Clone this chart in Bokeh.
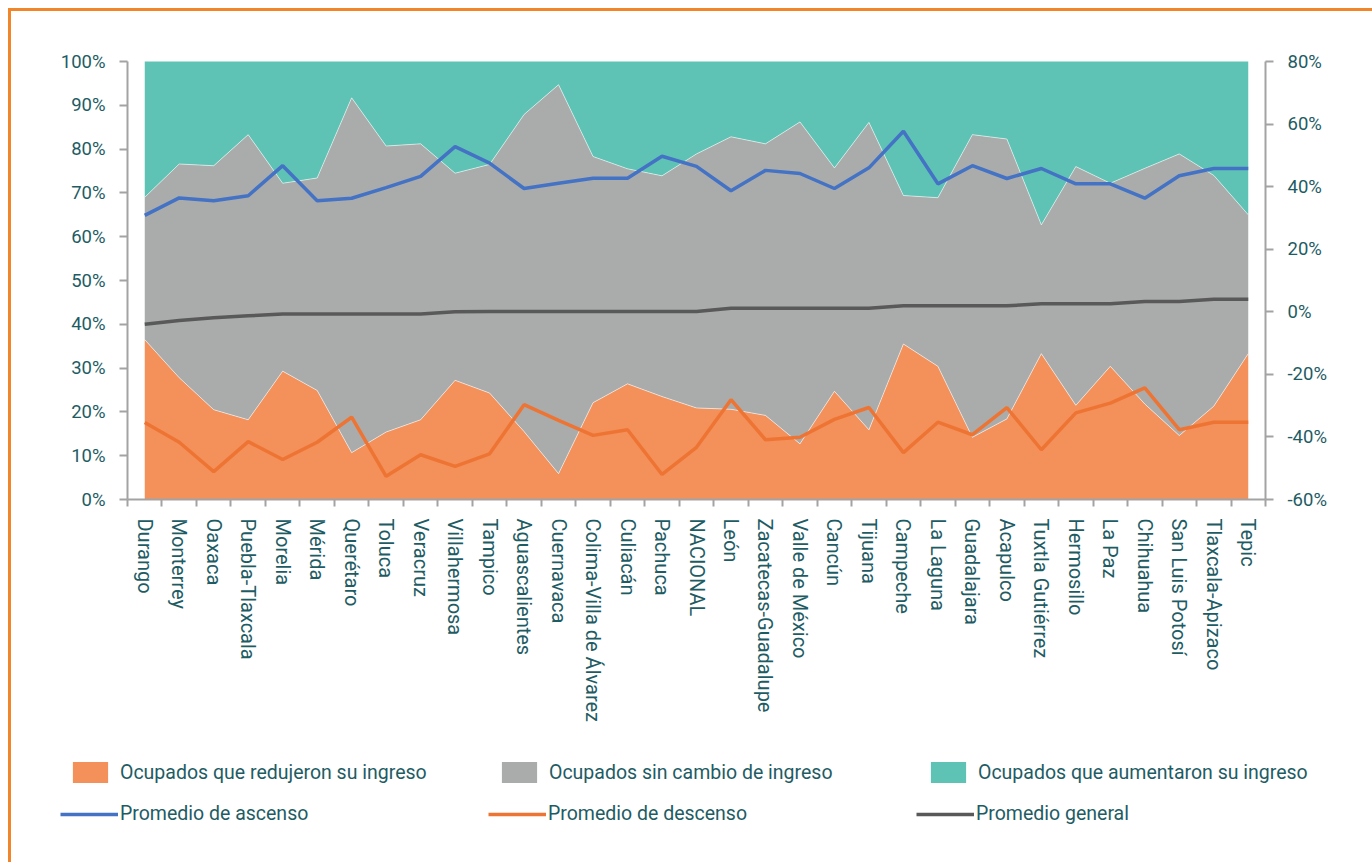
from bokeh.plotting import figure
from bokeh.models import (ColumnDataSource, Range1d, LinearAxis, FixedTicker,
                          PrintfTickFormatter, Legend, LegendItem)
from bokeh.embed import file_html
from bokeh.resources import INLINE

# ---------------- data ----------------
ciudades = ["Durango", "Monterrey", "Oaxaca", "Puebla-Tlaxcala", "Morelia", "Mérida",
            "Querétaro", "Toluca", "Veracruz", "Villahermosa", "Tampico", "Aguascalientes",
            "Cuernavaca", "Colima-Villa de Álvarez", "Culiacán", "Pachuca", "NACIONAL",
            "León", "Zacatecas-Guadalupe", "Valle de México", "Cancún", "Tijuana",
            "Campeche", "La Laguna", "Guadalajara", "Acapulco", "Tuxtla Gutiérrez",
            "Hermosillo", "La Paz", "Chihuahua", "San Luis Potosí", "Tlaxcala-Apizaco", "Tepic"]

# % ocupados que redujeron su ingreso
redujeron = [36.5, 27.8, 20.5, 18.2, 29.3, 24.9, 10.7, 15.4, 18.2, 27.2, 24.3, 15.5,
             5.9, 22.1, 26.4, 23.5, 20.9, 20.6, 19.2, 12.7, 24.7, 15.9, 35.5, 30.4,
             14.2, 18.4, 33.3, 21.5, 30.4, 21.8, 14.6, 21.3, 33.3]
# % ocupados sin cambio de ingreso
sin_cambio = [32.5, 48.8, 55.7, 65.1, 42.9, 48.5, 81.0, 65.3, 63.0, 47.3, 52.2, 72.4,
              88.8, 56.2, 49.1, 50.4, 58.0, 62.2, 62.0, 73.5, 51.0, 70.2, 33.9, 38.5,
              69.1, 63.9, 29.4, 54.5, 41.8, 53.8, 64.3, 52.7, 31.7]
# % ocupados que aumentaron su ingreso
aumentaron = [31.0, 23.4, 23.8, 16.7, 27.8, 26.6, 8.3, 19.3, 18.8, 25.5, 23.5, 12.1,
              5.3, 21.7, 24.5, 26.1, 21.1, 17.2, 18.8, 13.8, 24.3, 13.9, 30.6, 31.1,
              16.7, 17.7, 37.3, 24.0, 27.8, 24.4, 21.1, 26.0, 35.0]

prom_ascenso = [30.8, 36.4, 35.5, 37.1, 46.7, 35.5, 36.3, 39.7, 43.3, 52.8, 47.5, 39.4,
                41.1, 42.7, 42.7, 49.7, 46.5, 38.7, 45.2, 44.2, 39.4, 46.0, 57.7, 40.9,
                46.7, 42.6, 45.8, 40.9, 40.9, 36.3, 43.5, 45.8, 45.8]
prom_descenso = [-35.4, -41.7, -51.1, -41.5, -47.2, -41.7, -33.7, -52.6, -45.7, -49.4,
                 -45.4, -29.7, -34.7, -39.5, -37.7, -52.0, -43.3, -28.1, -40.9, -40.1,
                 -34.4, -30.6, -45.0, -35.3, -39.3, -30.6, -44.1, -32.3, -29.2, -24.3,
                 -37.7, -35.3, -35.3]
prom_general = [-4.0, -2.8, -1.9, -1.3, -0.7, -0.7, -0.7, -0.7, -0.7, 0.0, 0.1, 0.1,
                0.1, 0.1, 0.1, 0.1, 0.1, 1.1, 1.1, 1.1, 1.1, 1.1, 1.9, 1.9, 1.9, 1.9,
                2.6, 2.6, 2.6, 3.3, 3.3, 4.0, 4.0]

left_ticks = [0, 10, 20, 30, 40, 50, 60, 70, 80, 90, 100]
right_ticks = [-60, -40, -20, 0, 20, 40, 60, 80]

# ---------------- styles ----------------
C_RED = "#F4905A"
C_SIN = "#A9ACAB"
C_AUM = "#5EC3B5"
C_ASC = "#4472C4"
C_DES = "#EE7434"
C_GEN = "#595959"
TXT = "#1E5C64"
AX = "#A3A3A3"
FONT = "Roboto"
BORDER = "#F0852A"

n = len(ciudades)
x = list(range(n))
tope_red = redujeron
tope_sin = [a + b for a, b in zip(redujeron, sin_cambio)]
src = ColumnDataSource(dict(x=x, red=redujeron, sin=sin_cambio, aum=aumentaron,
                            asc=prom_ascenso, des=prom_descenso, gen=prom_general,
                            t1=tope_red, t2=tope_sin))

# The frame covers the whole canvas (1361 x 851 px); axes sit inside it at fixed
# locations, so that the legend rows below the chart stay inside the frame.
W, H = 1361, 851
PX_X = 1138 / n          # px per category
PX_L = 438 / 100         # px per % (left axis)
PX_R = 438 / 140         # px per % (right axis)
FL, FT, FB = 116, 50, 363  # chart area offsets inside the canvas
x_range = Range1d(-0.5 - FL / PX_X, -0.5 + (W - FL) / PX_X)
y_range = Range1d(-FB / PX_L, 100 + FT / PX_L)
r_range = Range1d(-60 - FB / PX_R, 80 + FT / PX_R)

p = figure(frame_width=W, frame_height=H, min_border=0,
           x_range=x_range, y_range=y_range,
           output_backend="svg", toolbar_location=None, tools="")
p.styles = {"margin-left": "8px", "margin-top": "8px",
            "border-left": "3px solid " + BORDER, "border-top": "3px solid " + BORDER}
p.extra_y_ranges = {"right": r_range}
p.outline_line_color = None
p.xgrid.visible = False
p.ygrid.visible = False
p.background_fill_color = "white"
p.border_fill_color = "white"

areas = p.varea_stack(stackers=["red", "sin", "aum"], x="x", source=src,
                      color=[C_RED, C_SIN, C_AUM])
p.line("x", "t1", source=src, line_color="white", line_width=0.8, line_alpha=0.7)
p.line("x", "t2", source=src, line_color="white", line_width=0.8, line_alpha=0.7)

r_gen = p.line("x", "gen", source=src, y_range_name="right", line_color=C_GEN, line_width=3.5)
r_asc = p.line("x", "asc", source=src, y_range_name="right", line_color=C_ASC, line_width=3.5)
r_des = p.line("x", "des", source=src, y_range_name="right", line_color=C_DES, line_width=3.5)

# x axis
xa = p.xaxis[0]
xa.fixed_location = 0
xa.bounds = (-0.5, n - 0.5)
xa.ticker = FixedTicker(ticks=x, minor_ticks=[i - 0.5 for i in range(n + 1)])
xa.major_label_overrides = {i: c for i, c in enumerate(ciudades)}
xa.major_label_orientation = "vertical"
xa.major_tick_line_color = None
xa.major_tick_out = 0
xa.major_tick_in = 0
xa.minor_tick_line_color = AX
xa.minor_tick_line_width = 2
xa.minor_tick_out = 7
xa.minor_tick_in = 0
xa.axis_line_color = AX
xa.axis_line_width = 2
xa.major_label_standoff = 12
xa.major_label_text_font = FONT
xa.major_label_text_font_size = "20px"
xa.major_label_text_color = TXT

ya = p.yaxis[0]
ya.fixed_location = -0.5
ya.bounds = (0, 100)
ya.ticker = FixedTicker(ticks=left_ticks)
ya.formatter = PrintfTickFormatter(format="%d%%")
ra = LinearAxis(y_range_name="right", ticker=FixedTicker(ticks=right_ticks),
                formatter=PrintfTickFormatter(format="%d%%"),
                fixed_location=n - 0.5, bounds=(-60, 80))
p.add_layout(ra, "right")
for a in (ya, ra):
    a.axis_line_color = AX
    a.axis_line_width = 2
    a.major_tick_line_color = AX
    a.major_tick_line_width = 2
    a.major_tick_out = 8
    a.major_tick_in = 0
    a.minor_tick_line_color = None
    a.major_label_standoff = 14
    a.major_label_text_font = FONT
    a.major_label_text_font_size = "18.5px"
    a.major_label_text_color = TXT

# ---------------- legends ----------------
common = dict(orientation="horizontal", padding=0, margin=0, border_line_color=None,
              background_fill_alpha=0, label_text_font=FONT, label_text_font_size="19.5px",
              label_text_color=TXT, label_width=350, label_height=20)
leg1 = Legend(items=[LegendItem(label="Ocupados que redujeron su ingreso", renderers=[areas[0]]),
                     LegendItem(label="Ocupados sin cambio de ingreso", renderers=[areas[1]]),
                     LegendItem(label="Ocupados que aumentaron su ingreso", renderers=[areas[2]])],
              location=(57, 77), glyph_width=44, glyph_height=26, label_standoff=8,
              spacing=27, **common)
leg2 = Legend(items=[LegendItem(label="Promedio de ascenso", renderers=[r_asc]),
                     LegendItem(label="Promedio de descenso", renderers=[r_des]),
                     LegendItem(label="Promedio general", renderers=[r_gen])],
              location=(49, 37), glyph_width=58, glyph_height=20, label_standoff=2,
              spacing=18, **common)
p.add_layout(leg1, "center")
p.add_layout(leg2, "center")

open("out.html", "w").write(file_html(p, INLINE))
